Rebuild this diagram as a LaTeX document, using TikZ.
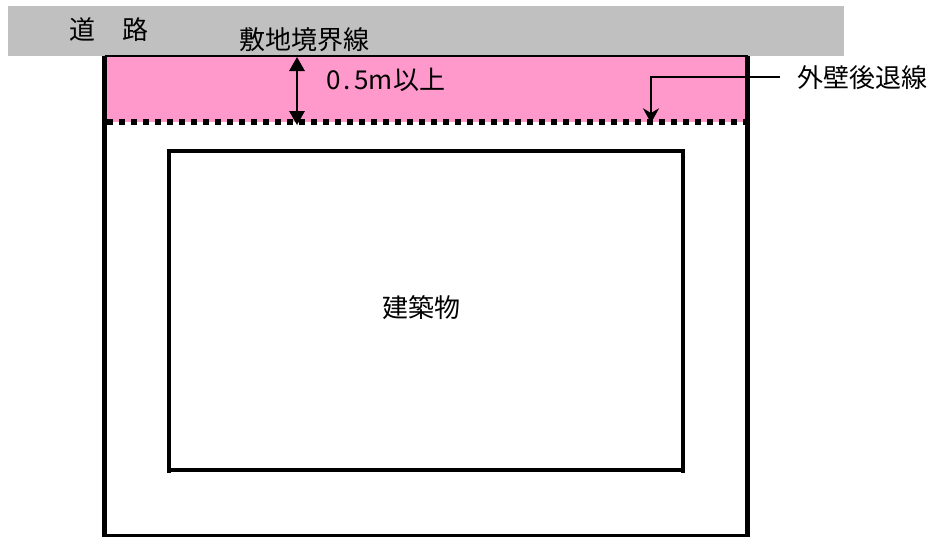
\documentclass[tikz,border=0pt]{standalone}
\usepackage{fontspec}
\setmainfont{Noto Sans CJK JP}
\usetikzlibrary{arrows.meta}
\newlength{\pxu}\setlength{\pxu}{0.75pt}
\newcommand{\hw}[2][14]{\makebox[#1\pxu][c]{#2}}
\definecolor{roadgray}{HTML}{C0C0C0}
\definecolor{setback}{HTML}{FF99CC}
\tikzset{
  x=0.75pt,y=-0.75pt,
  label text/.style={inner sep=0pt,font=\fontsize{19.5pt}{23pt}\selectfont,text=black},
  wall/.style={line width=4.3pt,line cap=butt},
  thinline/.style={line width=2.4pt,line cap=butt},
  bottomline/.style={line width=1.8pt,line cap=butt},
  boundary/.style={line width=1.2pt},
  setback line/.style={line width=4.4pt,dash pattern=on 4.5pt off 4.5pt},
  dim arrow/.style={line width=1.6pt,{Triangle[width=11.5pt,length=10.5pt]}-{Triangle[width=11.5pt,length=10.5pt]}},
  lead arrow/.style={line width=1.6pt,-{Stealth[width=12pt,length=11pt,inset=3.5pt]}}
}
\begin{document}
\begin{tikzpicture}
\useasboundingbox (0,0) rectangle (929,537);
\fill[white] (0,0) rectangle (929,537);
\fill[roadgray] (8,6) rectangle (844,56);
\fill[setback] (105,56) rectangle (747,122);

\coordinate (topA) at (297,57);
\coordinate (dotA) at (297,125);
\coordinate (leadS) at (780,77);
\coordinate (leadK) at (651,77);
\coordinate (leadE) at (651,123);
\coordinate (tl) at (104.5,56);
\coordinate (tr) at (747.5,56);
\coordinate (bl) at (104.5,536);
\coordinate (br) at (747.5,536);

% site lines
\draw[boundary] (tl) -- (tr);
\draw[setback line] (107,122) -- (745,122);
\draw[wall] (tl) -- (bl);
\draw[wall] (tr) -- (br);
\draw[bottomline] (102,535.5) -- (750,535.5);

% building
\coordinate (bA) at (169,473);
\coordinate (bB) at (169,151);
\coordinate (bC) at (683,151);
\coordinate (bD) at (683,473);
\draw[thinline,line join=miter] (bA) -- (bB) -- (bC) -- (bD);
\draw[thinline] (168,470) -- (684,470);

% arrows
\draw[dim arrow] (topA) -- (dotA);
\draw[lead arrow] (leadS) -- (leadK) -- (leadE);

% labels
\node[label text] (road1) at (82,30) {道};
\node[label text] (road2) at (135,30) {路};
\node[label text] (site) at (304,40) {敷地境界線};
\node[label text,anchor=west] (dim) at (326,80) {\hw{0}\hw{.}\hw{5}\hw[25]{m}以上};
\node[label text] (wallname) at (862,78) {外壁後退線};
\node[label text] (bldg) at (421,308) {建築物};
\end{tikzpicture}
\end{document}
